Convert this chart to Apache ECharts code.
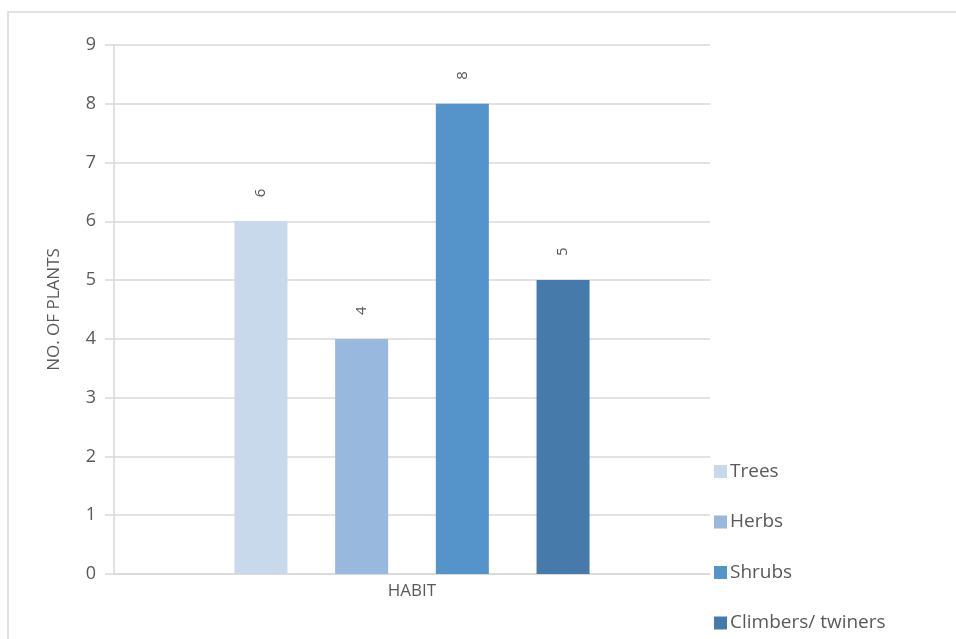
<!DOCTYPE html>
<html>
<head>
<meta charset="utf-8">
<script src="https://cdn.jsdelivr.net/npm/echarts@6/dist/echarts.min.js"></script>
<style>
html,body{margin:0;padding:0;background:#fff;}
#chart{width:956px;height:639px;}
</style>
</head>
<body>
<div id="chart"></div>
<script>
var categories = ['HABIT'];
var seriesNames = ['Trees', 'Herbs', 'Shrubs', 'Climbers/ twiners'];
var seriesValues = [[6], [4], [8], [5]];
var seriesColors = ['#c8d9ec', '#98b8de', '#5593cb', '#467aab'];
var yTicks = { min: 0, max: 9, interval: 1 };

var fontFam = '"Open Sans", "Liberation Sans", sans-serif';
var chart = echarts.init(document.getElementById('chart'));
var series = seriesNames.map(function (name, i) {
  return {
    name: name,
    type: 'bar',
    data: seriesValues[i],
    barWidth: 53,
    barGap: '90%',
    itemStyle: { color: seriesColors[i] },
    label: {
      show: true,
      position: 'top',
      rotate: 90,
      align: 'left',
      verticalAlign: 'middle',
      distance: 24,
      color: '#595959',
      fontSize: 15,
      fontFamily: fontFam
    }
  };
});
chart.setOption({
  animation: false,
  backgroundColor: '#fff',
  graphic: [{
    type: 'rect',
    shape: { x: 8, y: 12, width: 1000, height: 700 },
    style: { fill: 'none', stroke: '#d9d9d9', lineWidth: 1.5 },
    silent: true
  }],
  grid: { left: 114, right: 246, top: 45, bottom: 65 },
  legend: {
    orient: 'vertical',
    left: 709,
    top: 457,
    height: 260,
    itemWidth: 13,
    itemHeight: 13,
    itemGap: 31.5,
    icon: 'rect',
    textStyle: { color: '#595959', fontSize: 19, fontFamily: fontFam, padding: [0, 0, 0, -2] },
    data: seriesNames
  },
  xAxis: {
    type: 'category',
    data: categories,
    axisLine: { lineStyle: { color: '#d9d9d9', width: 1.5 } },
    axisTick: { show: false },
    axisLabel: { color: '#595959', fontSize: 17, fontFamily: fontFam, margin: 9 }
  },
  yAxis: {
    type: 'value',
    min: yTicks.min,
    max: yTicks.max,
    interval: yTicks.interval,
    name: 'NO. OF PLANTS',
    nameLocation: 'middle',
    nameGap: 51,
    nameTextStyle: { color: '#595959', fontSize: 17, fontFamily: fontFam },
    axisLine: { show: true, lineStyle: { color: '#d9d9d9', width: 1.5 } },
    axisTick: { show: true, length: 9, lineStyle: { color: '#d9d9d9', width: 1.5 } },
    axisLabel: { color: '#595959', fontSize: 18, fontFamily: fontFam, margin: 18 },
    splitLine: { lineStyle: { color: '#d9d9d9', width: 1.5 } }
  },
  series: series
});
</script>
</body>
</html>
